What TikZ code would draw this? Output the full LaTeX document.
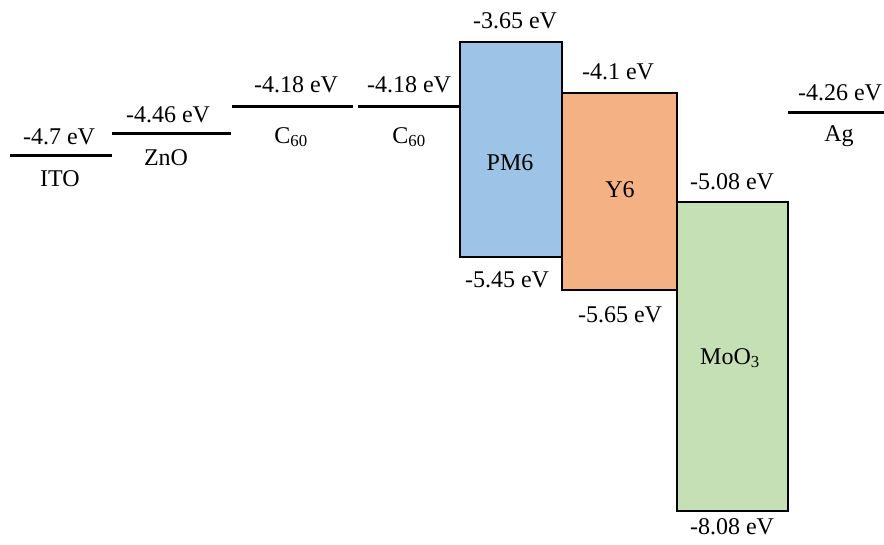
\documentclass[tikz,border=0pt]{standalone}
\usepackage{fontspec}
\setmainfont{Liberation Serif}
\definecolor{pmblue}{HTML}{9DC3E6}
\definecolor{yorange}{HTML}{F4B183}
\definecolor{mogreen}{HTML}{C5E0B4}
\begin{document}
\begin{tikzpicture}[x=1pt,y=-1pt,
  lbl/.style={inner sep=0pt,font=\fontsize{24}{28}\selectfont},
  level/.style={line width=3pt},
  band/.style={draw=black,line width=2.6pt}]
\useasboundingbox (0,0) rectangle (884,544);
% energy level lines
\draw[level] (10,155) -- (112,155);
\draw[level] (112,133) -- (231,133);
\draw[level] (232,106) -- (353,106);
\draw[level] (358,106) -- (460,106);
\draw[level] (788,112) -- (884,112);
% bands
\filldraw[band,fill=pmblue] (460,42) rectangle (562,257);
\filldraw[band,fill=yorange] (562,93) rectangle (677,290);
\filldraw[band,fill=mogreen] (677,202) rectangle (788,511);
% labels
\node[lbl] (ito-e) at (59,137) {-4.7 eV};
\node[lbl] (ito) at (60,179) {ITO};
\node[lbl] (zno-e) at (168,115) {-4.46 eV};
\node[lbl] (zno) at (166,158) {ZnO};
\node[lbl] (c1-e) at (296,85) {-4.18 eV};
\node[lbl] (c1) at (291,137) {C\textsubscript{60}};
\node[lbl] (c2-e) at (409,85) {-4.18 eV};
\node[lbl] (c2) at (409,137) {C\textsubscript{60}};
\node[lbl] (pm-e1) at (515,21) {-3.65 eV};
\node[lbl] (pm) at (510,163) {PM6};
\node[lbl] (pm-e2) at (507,280) {-5.45 eV};
\node[lbl] (y-e1) at (618,72) {-4.1 eV};
\node[lbl] (y) at (620,190) {Y6};
\node[lbl] (y-e2) at (620,315) {-5.65 eV};
\node[lbl] (mo-e1) at (732,182) {-5.08 eV};
\node[lbl] (mo) at (730,358) {MoO\textsubscript{3}};
\node[lbl] (mo-e2) at (732,527) {-8.08 eV};
\node[lbl] (ag-e) at (840,93) {-4.26 eV};
\node[lbl] (ag) at (839,136) {Ag};
\end{tikzpicture}
\end{document}
